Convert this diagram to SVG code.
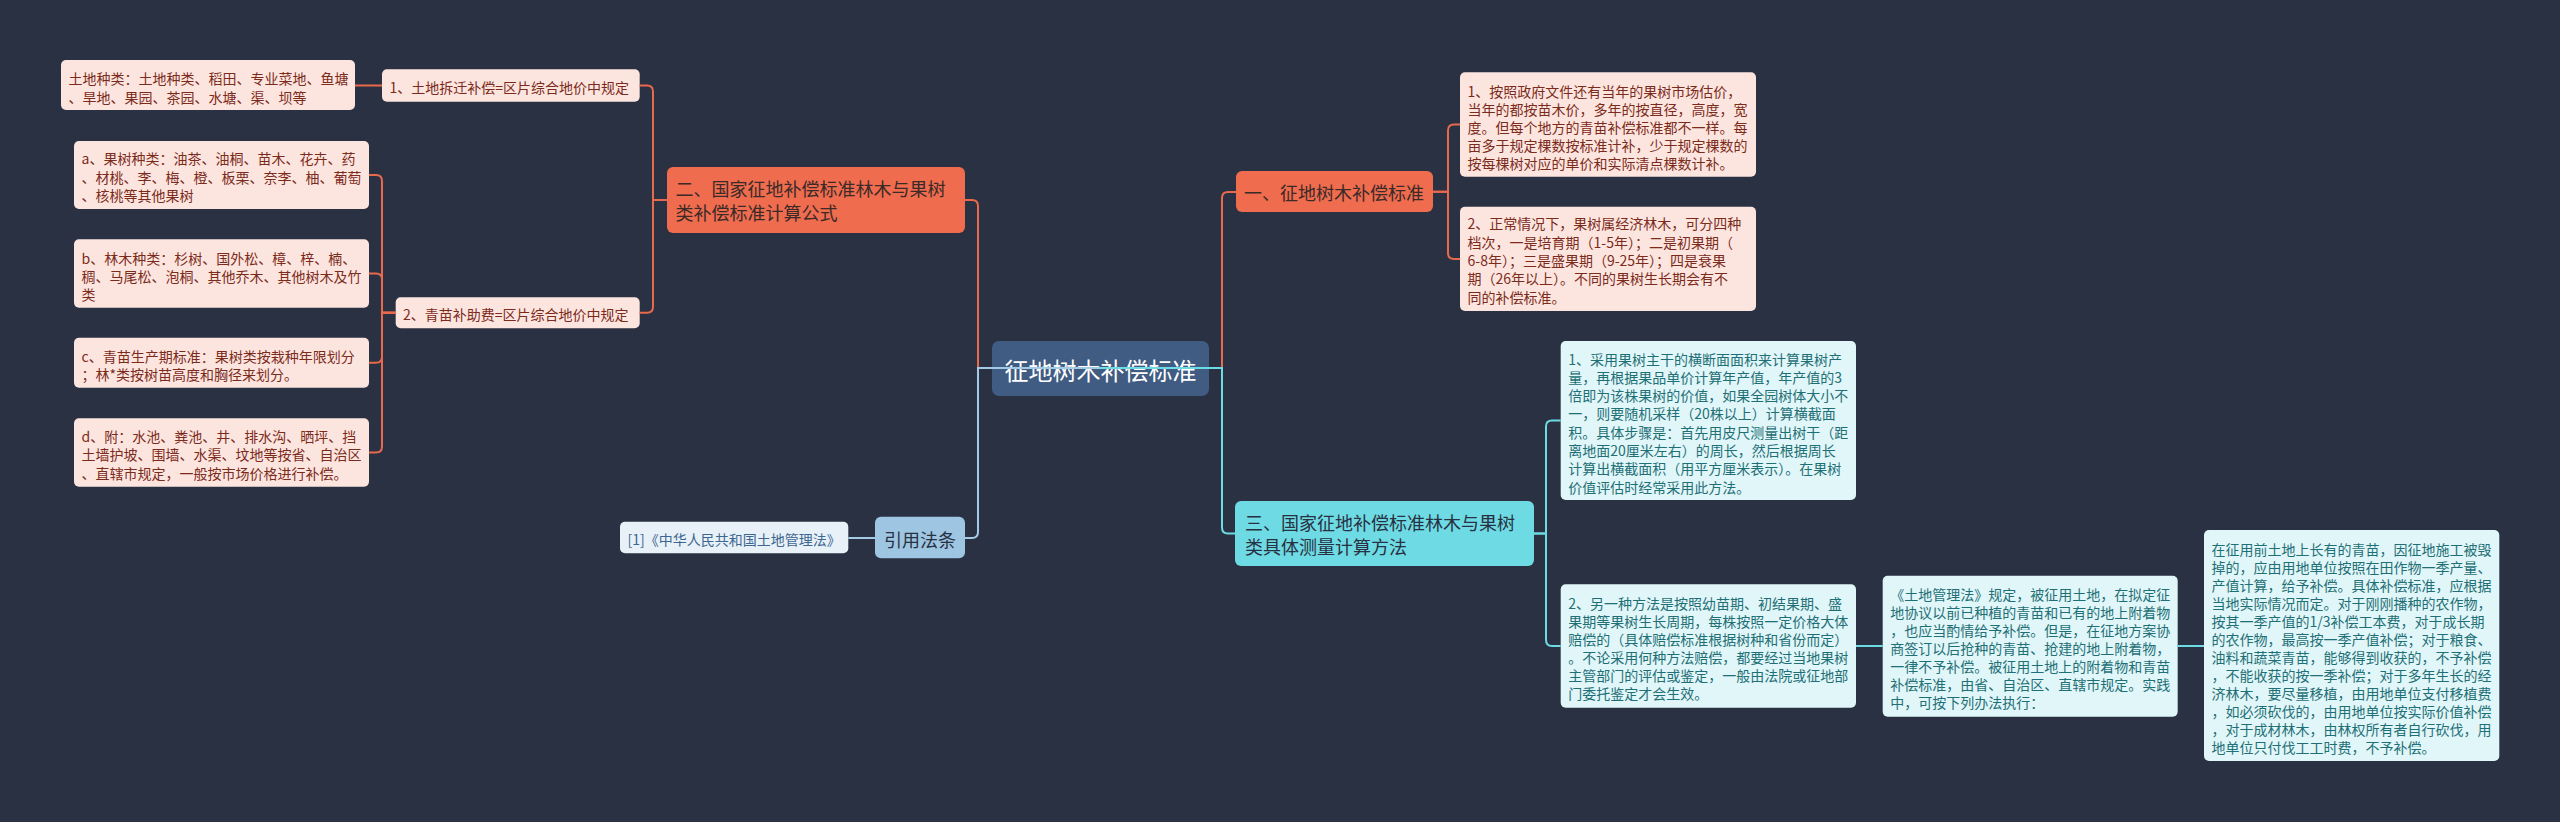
<svg xmlns="http://www.w3.org/2000/svg" width="2560" height="822" viewBox="0 0 2560 822">
<style>
text{font-family:"Noto Sans CJK SC","Noto Sans",sans-serif;dominant-baseline:central}
.leafP{fill:#fde5df}
.tP{fill:#7b2b1b;font-size:14px}
.mainR{fill:#ef6c4e}
.tR{fill:#3b2a28;font-size:18px}
.leafT{fill:#e0f6f8}
.tT{fill:#1f6f76;font-size:14px}
.mainT{fill:#6edbe4}
.tMT{fill:#283142;font-size:18px}
.refBox{fill:#9ec5e2}
.refLeaf{fill:#e8f1f8}
.tRefLeaf{fill:#3d6690;font-size:14px}
.root{fill:#405c82}
.tRoot{fill:#ffffff;font-size:24px}
.cR{fill:none;stroke:#e9694c;stroke-width:2}
.cT{fill:none;stroke:#6cdbe3;stroke-width:2}
.cB{fill:none;stroke:#a3cbe6;stroke-width:2}
</style>
<rect x="0" y="0" width="2560" height="822" fill="#2a3142"/>

<g id="root">
<rect class="root" x="992" y="341" width="217" height="55" rx="7"/>
<text class="tRoot" x="1100.5" y="369" text-anchor="middle">征地树木补偿标准</text>
</g>

<g id="n1">
<rect class="mainR" x="1236" y="171" width="197" height="41" rx="6"/>
<text class="tR" x="1244" y="192">一、征地树木补偿标准</text>
</g>
<g id="n1-1">
<rect class="leafP" x="1460" y="72.3" width="296" height="104.4" rx="5"/>
<text class="tP" x="1467.5" y="90.7">1、按照政府文件还有当年的果树市场估价，</text>
<text class="tP" x="1467.5" y="108.8">当年的都按苗木价，多年的按直径，高度，宽</text>
<text class="tP" x="1467.5" y="126.9">度。但每个地方的青苗补偿标准都不一样。每</text>
<text class="tP" x="1467.5" y="145">亩多于规定棵数按标准计补，少于规定棵数的</text>
<text class="tP" x="1467.5" y="163.1">按每棵树对应的单价和实际清点棵数计补。</text>
</g>
<g id="n1-2">
<rect class="leafP" x="1460" y="206.7" width="296" height="104.3" rx="5"/>
<text class="tP" x="1467.5" y="223.3">2、正常情况下，果树属经济林木，可分四种</text>
<text class="tP" x="1467.5" y="241.6">档次，一是培育期（1-5年）；二是初果期（</text>
<text class="tP" x="1467.5" y="259.9">6-8年）；三是盛果期（9-25年）；四是衰果</text>
<text class="tP" x="1467.5" y="278.2">期（26年以上）。不同的果树生长期会有不</text>
<text class="tP" x="1467.5" y="296.5">同的补偿标准。</text>
</g>

<g id="n2">
<rect class="mainR" x="667" y="167" width="298" height="66" rx="6"/>
<text class="tR" x="675.5" y="188.3">二、国家征地补偿标准林木与果树</text>
<text class="tR" x="675.5" y="211.7">类补偿标准计算公式</text>
</g>
<g id="n2-1">
<rect class="leafP" x="382" y="69.3" width="257.7" height="32.4" rx="5"/>
<text class="tP" x="389.5" y="87">1、土地拆迁补偿=区片综合地价中规定</text>
</g>
<g id="n2-1-1">
<rect class="leafP" x="61" y="60" width="294" height="50" rx="5"/>
<text class="tP" x="68.5" y="78.3">土地种类：土地种类、稻田、专业菜地、鱼塘</text>
<text class="tP" x="68.5" y="96.6">、旱地、果园、茶园、水塘、渠、坝等</text>
</g>
<g id="n2-2">
<rect class="leafP" x="395.7" y="297.3" width="244" height="31" rx="5"/>
<text class="tP" x="403" y="314.3">2、青苗补助费=区片综合地价中规定</text>
</g>
<g id="n2-2-a">
<rect class="leafP" x="74" y="141" width="295" height="68" rx="5"/>
<text class="tP" x="81.5" y="158.3">a、果树种类：油茶、油桐、苗木、花卉、药</text>
<text class="tP" x="81.5" y="176.6">、材桃、李、梅、橙、板栗、奈李、柚、葡萄</text>
<text class="tP" x="81.5" y="194.9">、核桃等其他果树</text>
</g>
<g id="n2-2-b">
<rect class="leafP" x="74" y="239.3" width="295" height="68.4" rx="5"/>
<text class="tP" x="81.5" y="257.5">b、林木种类：杉树、国外松、樟、梓、楠、</text>
<text class="tP" x="81.5" y="275.5">稠、马尾松、泡桐、其他乔木、其他树木及竹</text>
<text class="tP" x="81.5" y="293.5">类</text>
</g>
<g id="n2-2-c">
<rect class="leafP" x="74" y="337.7" width="295" height="50" rx="5"/>
<text class="tP" x="81.5" y="355.5">c、青苗生产期标准：果树类按栽种年限划分</text>
<text class="tP" x="81.5" y="373.8">；林*类按树苗高度和胸径来划分。</text>
</g>
<g id="n2-2-d">
<rect class="leafP" x="74" y="418.3" width="295" height="68.4" rx="5"/>
<text class="tP" x="81.5" y="436">d、附：水池、粪池、井、排水沟、晒坪、挡</text>
<text class="tP" x="81.5" y="454.3">土墙护坡、围墙、水渠、坟地等按省、自治区</text>
<text class="tP" x="81.5" y="472.6">、直辖市规定，一般按市场价格进行补偿。</text>
</g>

<g id="n3">
<rect class="mainT" x="1235" y="501" width="299" height="65" rx="6"/>
<text class="tMT" x="1245" y="522">三、国家征地补偿标准林木与果树</text>
<text class="tMT" x="1245" y="545.7">类具体测量计算方法</text>
</g>
<g id="n3-1">
<rect class="leafT" x="1560.7" y="341" width="295.3" height="159" rx="5"/>
<text class="tT" x="1568.2" y="358.5">1、采用果树主干的横断面面积来计算果树产</text>
<text class="tT" x="1568.2" y="376.8">量，再根据果品单价计算年产值，年产值的3</text>
<text class="tT" x="1568.2" y="395.1">倍即为该株果树的价值，如果全园树体大小不</text>
<text class="tT" x="1568.2" y="413.4">一，则要随机采样（20株以上）计算横截面</text>
<text class="tT" x="1568.2" y="431.7">积。具体步骤是：首先用皮尺测量出树干（距</text>
<text class="tT" x="1568.2" y="450">离地面20厘米左右）的周长，然后根据周长</text>
<text class="tT" x="1568.2" y="468.3">计算出横截面积（用平方厘米表示）。在果树</text>
<text class="tT" x="1568.2" y="486.6">价值评估时经常采用此方法。</text>
</g>
<g id="n3-2">
<rect class="leafT" x="1560.7" y="584.3" width="295.3" height="123.4" rx="5"/>
<text class="tT" x="1568.2" y="603">2、另一种方法是按照幼苗期、初结果期、盛</text>
<text class="tT" x="1568.2" y="621">果期等果树生长周期，每株按照一定价格大体</text>
<text class="tT" x="1568.2" y="639">赔偿的（具体赔偿标准根据树种和省份而定）</text>
<text class="tT" x="1568.2" y="657">。不论采用何种方法赔偿，都要经过当地果树</text>
<text class="tT" x="1568.2" y="675">主管部门的评估或鉴定，一般由法院或征地部</text>
<text class="tT" x="1568.2" y="693">门委托鉴定才会生效。</text>
</g>
<g id="n3-2-1">
<rect class="leafT" x="1882.7" y="575.7" width="295" height="141" rx="5"/>
<text class="tT" x="1890.2" y="593.7">《土地管理法》规定，被征用土地，在拟定征</text>
<text class="tT" x="1890.2" y="611.7">地协议以前已种植的青苗和已有的地上附着物</text>
<text class="tT" x="1890.2" y="629.7">，也应当酌情给予补偿。但是，在征地方案协</text>
<text class="tT" x="1890.2" y="647.7">商签订以后抢种的青苗、抢建的地上附着物，</text>
<text class="tT" x="1890.2" y="665.7">一律不予补偿。被征用土地上的附着物和青苗</text>
<text class="tT" x="1890.2" y="683.7">补偿标准，由省、自治区、直辖市规定。实践</text>
<text class="tT" x="1890.2" y="701.7">中，可按下列办法执行：</text>
</g>
<g id="n3-2-1-1">
<rect class="leafT" x="2204" y="530" width="295.3" height="231" rx="5"/>
<text class="tT" x="2211.5" y="548.5">在征用前土地上长有的青苗，因征地施工被毁</text>
<text class="tT" x="2211.5" y="566.5">掉的，应由用地单位按照在田作物一季产量、</text>
<text class="tT" x="2211.5" y="584.5">产值计算，给予补偿。具体补偿标准，应根据</text>
<text class="tT" x="2211.5" y="602.5">当地实际情况而定。对于刚刚播种的农作物，</text>
<text class="tT" x="2211.5" y="620.5">按其一季产值的1/3补偿工本费，对于成长期</text>
<text class="tT" x="2211.5" y="638.5">的农作物，最高按一季产值补偿；对于粮食、</text>
<text class="tT" x="2211.5" y="656.5">油料和蔬菜青苗，能够得到收获的，不予补偿</text>
<text class="tT" x="2211.5" y="674.5">，不能收获的按一季补偿；对于多年生长的经</text>
<text class="tT" x="2211.5" y="692.5">济林木，要尽量移植，由用地单位支付移植费</text>
<text class="tT" x="2211.5" y="710.5">，如必须砍伐的，由用地单位按实际价值补偿</text>
<text class="tT" x="2211.5" y="728.5">，对于成材林木，由林权所有者自行砍伐，用</text>
<text class="tT" x="2211.5" y="746.5">地单位只付伐工工时费，不予补偿。</text>
</g>

<g id="ref">
<rect class="refBox" x="875" y="516.7" width="90" height="41.6" rx="6"/>
<text class="tMT" x="920" y="539" text-anchor="middle">引用法条</text>
</g>
<g id="ref-1">
<rect class="refLeaf" x="620" y="521.7" width="228.3" height="31.6" rx="5"/>
<text class="tRefLeaf" x="627.5" y="539">[1]《中华人民共和国土地管理法》</text>
</g>

<g id="connectors">
<path class="cR" d="M1100,368 H978 V206 Q978,200 972,200 H965"/>
<path class="cR" d="M1100,368 H1222 V198 Q1222,192 1228,192 H1236"/>
<path class="cB" d="M1100,368 H978 V532 Q978,538 972,538 H965"/>
<path class="cT" d="M1100,368 H1222 V527.5 Q1222,533.5 1228,533.5 H1235"/>
<path class="cR" d="M1433,191.7 H1448 V130.5 Q1448,124.5 1454,124.5 H1460"/>
<path class="cR" d="M1433,191.7 H1448 V252.9 Q1448,258.9 1454,258.9 H1460"/>
<path class="cR" d="M667,200 H653 V91.5 Q653,85.5 647,85.5 H639.7"/>
<path class="cR" d="M667,200 H653 V306.8 Q653,312.8 647,312.8 H639.7"/>
<path class="cR" d="M382,85.5 H355"/>
<path class="cR" d="M395.7,312.8 H382 V181 Q382,175 376,175 H369"/>
<path class="cR" d="M395.7,312.8 H382 V279.5 Q382,273.5 376,273.5 H369"/>
<path class="cR" d="M395.7,312.8 H382 V356.7 Q382,362.7 376,362.7 H369"/>
<path class="cR" d="M395.7,312.8 H382 V446.5 Q382,452.5 376,452.5 H369"/>
<path class="cT" d="M1534,533.5 H1546 V426.5 Q1546,420.5 1552,420.5 H1560.7"/>
<path class="cT" d="M1534,533.5 H1546 V640 Q1546,646 1552,646 H1560.7"/>
<path class="cT" d="M1856,646 H1882.7"/>
<path class="cT" d="M2177.7,646 H2204"/>
<path class="cB" d="M875,538 H848.3"/>
</g>
</svg>
